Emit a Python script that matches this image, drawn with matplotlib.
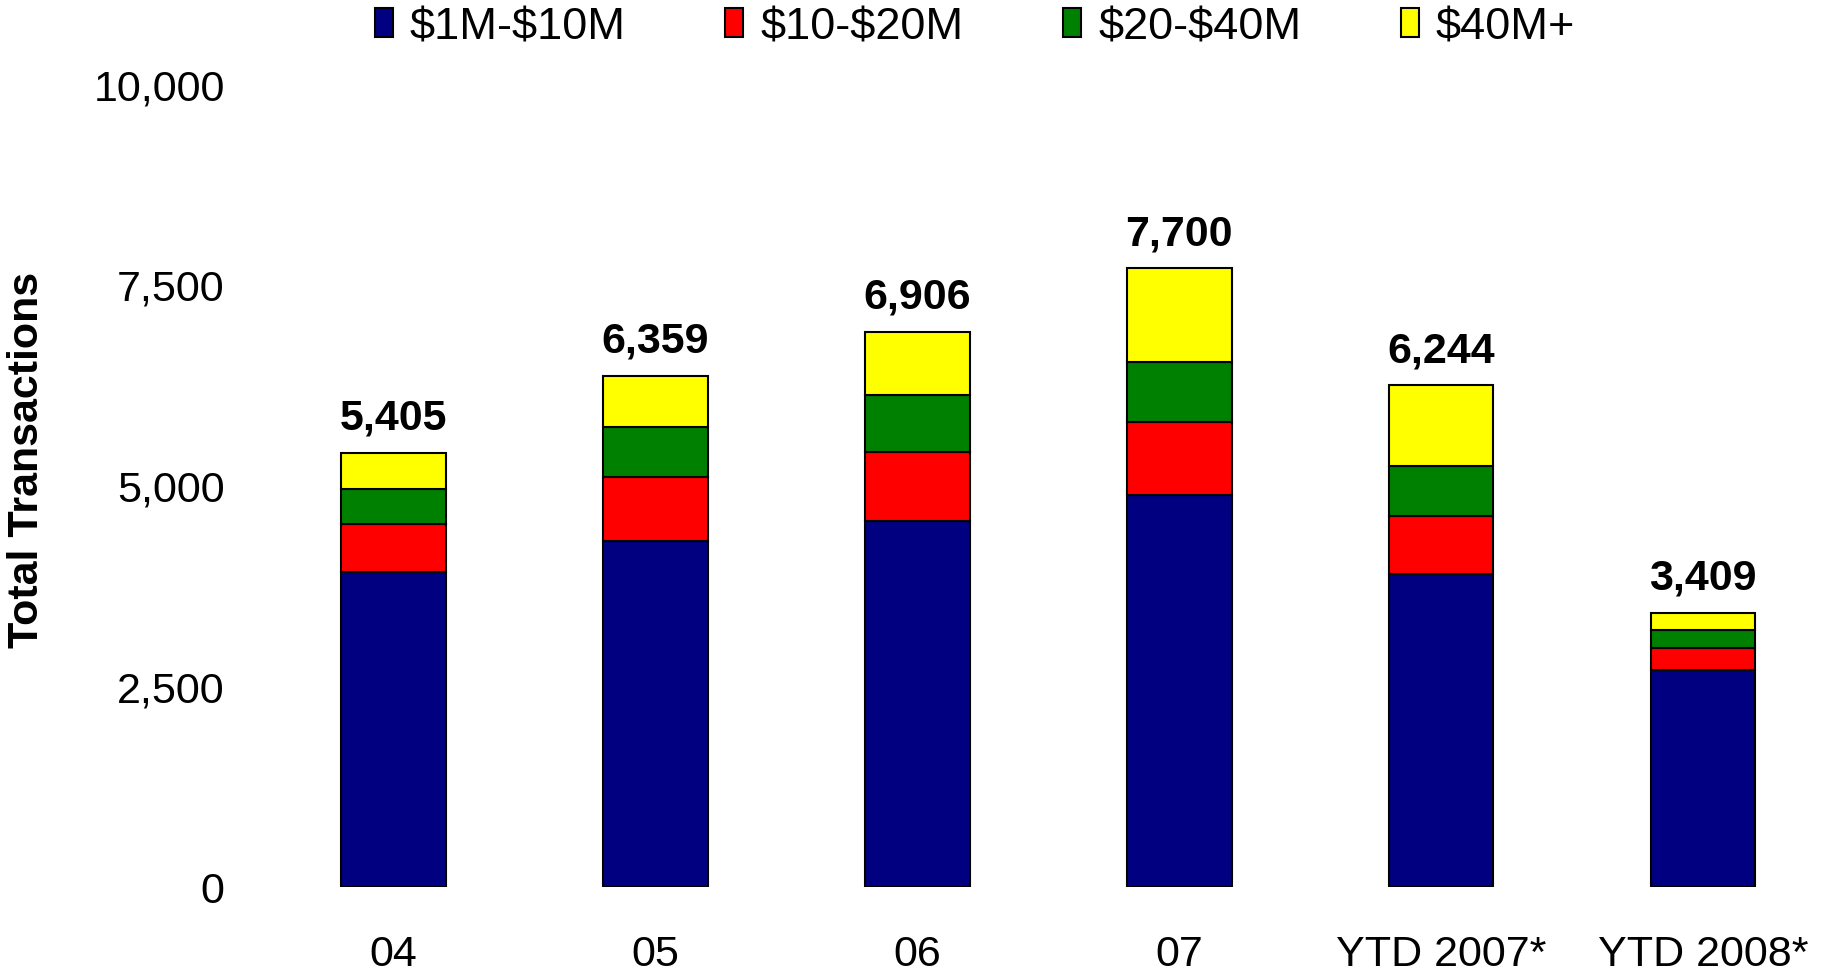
import matplotlib
matplotlib.use("Agg")
import matplotlib.pyplot as plt
import numpy as np

plt.rcParams['font.family'] = ['Liberation Sans', 'DejaVu Sans']

categories = ['04', '05', '06', '07', 'YTD 2007*', 'YTD 2008*']
series_names = [r'\$1M-\$10M', r'\$10-\$20M', r'\$20-\$40M', r'\$40M+']
s_1_10 = [3924, 4310, 4551, 4879, 3899, 2702]
s_10_20 = [594, 798, 869, 902, 714, 278]
s_20_40 = [435, 623, 702, 756, 624, 216]
s_40_plus = [452, 628, 784, 1163, 1007, 213]
totals = [5405, 6359, 6906, 7700, 6244, 3409]
y_ticks = [0, 2500, 5000, 7500, 10000]

colors = ['#000080', '#FF0000', '#008000', '#FFFF00']

W, H = 1825, 979
fig = plt.figure(figsize=(W / 100, H / 100), dpi=100)
ax_left, ax_right = 240, 1800
ax_bottom_px, ax_top_px = 888, 84.5
ax = fig.add_axes([ax_left / W, (H - ax_bottom_px) / H,
                   (ax_right - ax_left) / W, (ax_bottom_px - ax_top_px) / H])

step = 261.9
x0 = -(393.5 - ax_left) / step
ax.set_xlim(x0, x0 + (ax_right - ax_left) / step)
ax.set_ylim(0, 10000)

x = np.arange(len(categories))
bottom = np.zeros(len(categories))
for name, vals, c in zip(series_names, [s_1_10, s_10_20, s_20_40, s_40_plus], colors):
    ax.bar(x, vals, width=0.4, bottom=bottom, color=c, edgecolor='black',
           linewidth=1.5, label=name)
    bottom += np.array(vals)

# totals above each stack
for xi, top, t in zip(x, bottom, totals):
    ax.annotate(f'{t:,}', (xi, top), xytext=(0, 11), textcoords='offset points',
                ha='center', va='bottom', fontsize=31, fontweight='bold')

ax.set_xticks(x)
ax.set_xticklabels(categories, fontsize=31)
ax.set_yticks(y_ticks)
ax.set_yticklabels([f'{v:,}' for v in y_ticks], fontsize=31)
ax.tick_params(axis='both', length=0)
ax.tick_params(axis='x', pad=34)
ax.tick_params(axis='y', pad=11)
for s in ax.spines.values():
    s.set_visible(False)

fig.text(27 / W, 1 - 460 / H, 'Total Transactions', rotation=90, ha='center', va='center',
         fontsize=31, fontweight='bold')

fig.legend(loc='center', bbox_to_anchor=(975 / W, 1 - 28 / H), ncol=4, frameon=False,
           fontsize=32.5, handlelength=0.4, handleheight=0.6, handletextpad=0.38,
           columnspacing=2.2, borderaxespad=0)

fig.savefig('out.png', dpi=100)
